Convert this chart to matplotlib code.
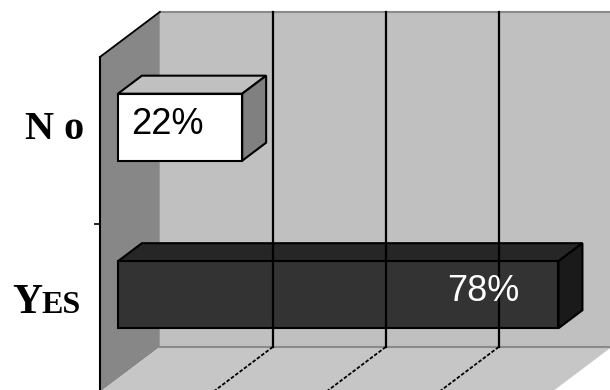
import matplotlib.pyplot as plt

# datos del grafico
categorias = ['Yes', 'No']
valores = [78, 22]
textos = ['78%', '22%']
marcas_x = [20, 40, 60, 80]

color_frente = ['#333333', '#ffffff']
color_arriba = ['#262626', '#c0c0c0']
color_lado = ['#1a1a1a', '#808080']
color_texto = ['white', 'black']

# proyeccion oblicua (profundidad z de 0 a 1)
DX = 10.6
DY = 0.269
ALTO_BARRA = 0.4
Z0, Z1 = 0.3, 0.7


def proj(v, y, z):
    return v + DX * z, y + DY * z


def cara(ax, puntos, **kw):
    xs, ys = zip(*[proj(*p) for p in puntos])
    ax.fill(xs, ys, **kw)


def linea(ax, p1, p2, **kw):
    a, b = proj(*p1), proj(*p2)
    ax.plot([a[0], b[0]], [a[1], b[1]], **kw)


fig = plt.figure(figsize=(6.1, 3.9), dpi=100)
ax = fig.add_axes([0, 0, 1, 1])
ax.set_xlim(-17.7, 90.3)
ax.set_ylim(0.012, 2.34)
ax.axis('off')

vmax = marcas_x[-1]
n = len(categorias)

# paredes
cara(ax, [(0, 0, 1), (vmax, 0, 1), (vmax, n, 1), (0, n, 1)], fc='#c0c0c0', ec='none')
cara(ax, [(0, 0, 0), (0, 0, 1), (0, n, 1), (0, n, 0)], fc='#878787', ec='none')
cara(ax, [(0, 0, 0), (vmax, 0, 0), (vmax, 0, 1), (0, 0, 1)], fc='#c6c6c6', ec='none')

linea(ax, (0, 0, 1), (vmax, 0, 1), color='#8a8a8a', lw=1.5)
linea(ax, (0, n, 1), (vmax, n, 1), color='#8a8a8a', lw=1.5)
linea(ax, (0, 0, 0), (0, n, 0), color='black', lw=1.5)
linea(ax, (0, n, 0), (0, n, 1), color='black', lw=1.3)

for m in marcas_x[:-1]:
    linea(ax, (m, 0, 1), (m, n, 1), color='black', lw=1.6)
    linea(ax, (m, 0, 1), (m, 0, 0), color='black', lw=1.3, ls=(0, (2, 1)))

for k in range(n):
    x, y = proj(0, k, 0)
    ax.plot(x, y, marker=0, markersize=4, color='black', mew=1.2)

# barras
for i, v in enumerate(valores):
    y0 = i + 0.5 - ALTO_BARRA / 2
    y1 = i + 0.5 + ALTO_BARRA / 2
    estilo = dict(ec='black', lw=1.5, joinstyle='miter')
    cara(ax, [(0, y1, Z0), (v, y1, Z0), (v, y1, Z1), (0, y1, Z1)], fc=color_arriba[i], **estilo)
    cara(ax, [(v, y0, Z0), (v, y0, Z1), (v, y1, Z1), (v, y1, Z0)], fc=color_lado[i], **estilo)
    cara(ax, [(0, y0, Z0), (v, y0, Z0), (v, y1, Z0), (0, y1, Z0)], fc=color_frente[i], **estilo)

    ax.annotate(textos[i], xy=proj(v, i + 0.5, Z0), xytext=(-39, 3),
                textcoords='offset pixels', ha='right', va='center',
                color=color_texto[i], fontsize=26, family='Liberation Sans')

# etiquetas de categoria (versalitas)
fuente = dict(family='Liberation Serif', weight='bold', color='black')
t_y = ax.annotate('Y', xy=proj(0, 0.5, Z0), xytext=(-106, -18),
                  textcoords='offset pixels', ha='left', va='baseline',
                  fontsize=30, **fuente)
ax.annotate('ES', xy=(1, 0), xycoords=t_y, xytext=(0, 2),
            textcoords='offset pixels', ha='left', va='bottom',
            fontsize=23, **fuente)
ax.annotate('N o', xy=proj(0, 1.5, Z0), xytext=(-63, -12),
            textcoords='offset pixels', ha='center', va='baseline',
            fontsize=29, **fuente)

fig.savefig('out.png', dpi=100)
